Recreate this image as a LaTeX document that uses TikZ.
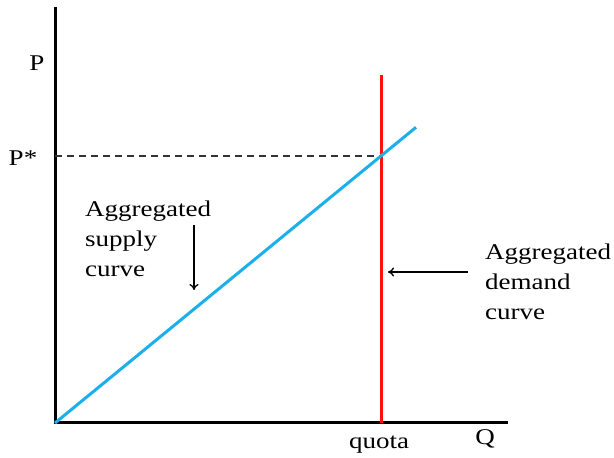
\documentclass[tikz,border=0pt]{standalone}
\usepackage{fontspec}
\setmainfont{Liberation Serif}[FakeStretch=1.2]
\usetikzlibrary{arrows.meta,positioning}
\definecolor{supplyblue}{HTML}{1CB0EA}
\definecolor{quotared}{HTML}{FF1010}
\definecolor{dashgray}{HTML}{333333}

\begin{document}
\begin{tikzpicture}[x=1pt,y=1pt,>={To[length=6pt,width=9pt]},
  axis/.style={line width=3pt,black},
  lbl/.style={font=\fontsize{22.5}{30}\selectfont,inner sep=0pt},
  note/.style={lbl,align=left,anchor=north west},
  pointer/.style={->,line width=1.3pt}]
  \useasboundingbox[fill=white] (0,0) rectangle (614,458);

  % axes
  \coordinate (O) at (55,35);
  \coordinate (ytop) at (55,451);
  \coordinate (xend) at (508,35);
  \draw[axis] (ytop) -- (O) -- (xend);
  \node[lbl,anchor=base] (plabel) at (37,387) {P};
  \node[lbl,anchor=base] (qlabel) at (485,13) {Q};

  % quota line and equilibrium
  \coordinate (qbot) at (381,35);
  \coordinate (qtop) at (381,383);
  \coordinate (eq) at (381,302);
  \coordinate (pstar) at (55,302);
  \draw[line width=2pt,dashgray,dash pattern=on 7pt off 5pt] (pstar) -- (eq);
  \draw[line width=3pt,quotared] (qbot) -- (qtop);
  \coordinate (send) at (416,330.7);
  \draw[line width=3pt,supplyblue] (O) -- (send);
  \node[lbl,anchor=base] (pstarlabel) at (23,292) {P*};
  \node[lbl,anchor=base] (quotalabel) at (379,9) {quota};

  % labels with pointers
  \node[note] (supplynote) at (85,257) {Aggregated\\supply\\curve};
  \coordinate (sfrom) at (194,233);
  \coordinate (sto) at (194,168);
  \draw[pointer] (sfrom) -- (sto);
  \node[note] (demandnote) at (485,214) {Aggregated\\demand\\curve};
  \coordinate (dfrom) at (468,186);
  \coordinate (dto) at (388,186);
  \draw[pointer] (dfrom) -- (dto);
\end{tikzpicture}
\end{document}
